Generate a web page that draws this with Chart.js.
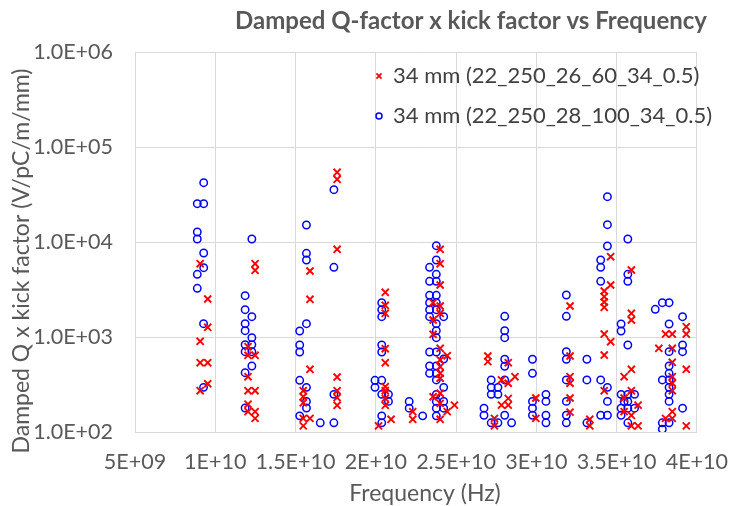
<!DOCTYPE html>
<html><head><meta charset="utf-8">
<script src="https://cdn.jsdelivr.net/npm/chart.js@4.4.0/dist/chart.umd.min.js"></script>
<style>html,body{margin:0;padding:0;background:#fff;} #wrap{width:745px;height:506px;position:relative;}</style>
</head><body><div id="wrap"><canvas id="c" width="745" height="506"></canvas></div>
<script>
const chartTitle = 'Damped Q-factor x kick factor vs Frequency';
const xAxisTitle = 'Frequency (Hz)';
const yAxisTitle = 'Damped Q x kick factor (V/pC/m/mm)';
const seriesNames = ['34 mm (22_250_26_60_34_0.5)', '34 mm (22_250_28_100_34_0.5)'];
const xTickValues = [5e9, 1e10, 1.5e10, 2e10, 2.5e10, 3e10, 3.5e10, 4e10];
const xTickLabels = ['5E+09', '1E+10', '1.5E+10', '2E+10', '2.5E+10', '3E+10', '3.5E+10', '4E+10'];
const yTickValues = [1e2, 1e3, 1e4, 1e5, 1e6];
const yTickLabels = ['1.0E+02', '1.0E+03', '1.0E+04', '1.0E+05', '1.0E+06'];

// Series 1: red crosses (frequency in Hz, damped Q x kick factor)
const seriesAFreq = [
  9.06e9, 9.53e9, 9.53e9, 9.06e9, 9.06e9, 9.53e9, 9.53e9, 9.06e9,
  12.48e9, 12.48e9, 12.04e9, 12.04e9, 12.48e9, 12.04e9, 12.04e9, 12.48e9, 12.04e9, 12.04e9, 12.48e9, 12.48e9,
  15.90e9, 15.90e9, 15.90e9, 15.48e9, 15.48e9, 15.48e9, 15.48e9, 15.90e9, 15.48e9,
  17.59e9, 17.59e9, 17.59e9, 17.59e9, 17.59e9, 17.59e9, 17.59e9,
  20.59e9, 20.59e9, 20.59e9, 20.59e9, 20.59e9, 20.59e9, 20.59e9, 20.59e9, 20.59e9, 20.17e9, 20.95e9,
  22.30e9, 22.30e9,
  24.01e9, 24.01e9, 24.01e9, 23.57e9, 24.01e9, 23.57e9, 24.01e9, 23.57e9, 24.01e9, 24.45e9, 24.01e9, 24.01e9,
  24.01e9, 24.01e9, 23.57e9, 24.01e9, 24.01e9, 24.45e9, 24.90e9, 24.01e9,
  26.98e9, 26.98e9, 27.39e9, 27.39e9,
  28.25e9, 27.83e9, 28.25e9, 28.67e9, 28.25e9, 28.25e9, 27.83e9,
  29.97e9, 29.97e9,
  32.10e9, 32.10e9, 32.10e9, 32.10e9, 32.10e9, 32.10e9,
  33.33e9, 33.33e9,
  34.63e9, 34.63e9, 34.23e9, 34.23e9, 34.23e9, 34.23e9, 34.23e9, 34.63e9, 34.23e9, 34.23e9,
  35.92e9, 35.92e9, 35.92e9, 35.92e9, 35.47e9, 35.92e9, 35.47e9, 36.34e9, 35.92e9, 35.47e9, 35.92e9, 36.34e9,
  38.05e9, 38.47e9, 37.63e9, 38.47e9, 38.47e9, 38.47e9, 38.47e9, 38.47e9, 38.47e9, 38.05e9, 38.47e9,
  39.34e9, 39.34e9, 39.34e9, 39.34e9
];
const seriesAValue = [
  5910, 2512, 1265, 901, 536, 536, 322, 272,
  5910, 5037, 790, 642, 642, 382, 272, 272, 196, 164, 164, 139,
  4951, 2494, 457, 272, 235, 203, 139, 139, 116,
  54160, 45700, 8380, 379, 272, 230, 191,
  2954, 2157, 1776, 753, 536, 300, 272, 226, 191, 116, 136,
  164, 136,
  8380, 5910, 3527, 2297, 2120, 1510, 1776, 1067, 760, 636, 573, 487,
  415, 368, 235, 256, 200, 164, 192, 136,
  631, 550, 139, 116,
  536, 353, 326, 382, 226, 192, 192,
  228, 139,
  2120, 631, 382, 326, 228, 162,
  136, 116,
  7004, 3527, 3050, 2656, 2336, 2054, 1075, 892, 646, 272,
  5074, 1776, 1510, 457, 382, 272, 228, 192, 150, 164, 116, 116,
  1075, 1075, 761, 761, 542, 382, 326, 272, 164, 139, 139,
  1284, 1075, 457, 116
];

// Series 2: blue circles
const seriesBFreq = [
  9.28e9, 8.88e9, 9.28e9, 8.88e9, 8.88e9, 9.28e9, 9.28e9, 8.88e9, 8.88e9, 9.27e9, 9.27e9,
  12.28e9, 11.86e9, 11.86e9, 12.28e9, 11.86e9, 11.86e9, 12.28e9, 11.86e9, 12.28e9, 11.86e9, 12.28e9, 12.28e9, 11.86e9, 11.86e9,
  15.68e9, 15.68e9, 15.68e9, 15.68e9, 15.26e9, 15.26e9, 15.26e9, 15.26e9, 15.68e9, 15.68e9, 15.68e9, 15.26e9, 16.54e9,
  17.39e9, 17.39e9, 17.39e9, 17.39e9,
  20.37e9, 20.37e9, 20.37e9, 20.37e9, 20.37e9, 19.95e9, 20.37e9, 19.95e9, 20.37e9, 20.79e9, 20.79e9, 20.37e9, 20.37e9,
  22.08e9, 22.08e9, 22.92e9,
  23.77e9, 23.77e9, 23.35e9, 23.77e9, 23.35e9, 23.77e9, 23.35e9, 23.77e9, 23.35e9, 23.77e9, 23.35e9, 23.77e9,
  23.35e9, 24.23e9, 23.77e9, 23.77e9, 23.77e9, 23.35e9, 23.77e9, 24.23e9, 23.35e9, 23.77e9, 23.35e9, 23.77e9,
  23.77e9, 24.23e9, 23.77e9, 23.77e9, 24.23e9, 23.77e9, 24.23e9, 23.77e9,
  27.19e9, 27.19e9, 27.19e9, 27.61e9, 27.61e9, 26.74e9, 26.74e9, 27.19e9, 27.61e9,
  28.03e9, 28.03e9, 28.03e9, 28.03e9, 28.03e9, 28.03e9, 28.03e9, 28.46e9,
  29.76e9, 29.76e9, 29.76e9, 29.76e9, 29.76e9,
  30.60e9, 30.60e9, 30.60e9, 30.60e9,
  31.87e9, 31.87e9, 31.87e9, 31.87e9, 31.87e9, 31.87e9, 31.87e9, 31.87e9,
  33.15e9, 33.15e9, 33.15e9,
  34.43e9, 34.43e9, 34.43e9, 34.01e9, 34.01e9, 34.01e9, 34.01e9, 34.43e9, 34.43e9, 34.01e9, 34.43e9,
  35.70e9, 35.70e9, 35.70e9, 35.28e9, 35.28e9, 35.70e9, 35.28e9, 35.70e9, 36.12e9, 35.47e9, 35.70e9,
  35.28e9, 35.70e9, 36.12e9, 35.28e9, 35.70e9,
  37.41e9, 37.85e9, 38.27e9, 38.27e9, 38.27e9, 38.27e9, 38.27e9, 37.85e9, 38.27e9, 38.27e9, 38.27e9,
  38.27e9, 38.27e9, 37.85e9, 37.85e9,
  39.11e9, 39.11e9, 39.11e9, 39.11e9
];
const seriesBValue = [
  42100, 25305, 25305, 12743, 10755, 7661, 5364, 4571, 3255, 1380, 295,
  10755, 2721, 1939, 1636, 1380, 1165, 983, 830, 830, 700, 700, 495, 421, 179,
  15100, 7607, 6465, 1380, 1157, 824, 695, 350, 295, 210, 179, 148, 125,
  35530, 5416, 249, 125,
  2297, 1939, 1636, 824, 695, 350, 350, 295, 249, 249, 210, 148, 125,
  210, 178, 148,
  9142, 6465, 5416, 4571, 3857, 3857, 2747, 2747, 2297, 2297, 1939, 1939,
  1636, 1636, 1380, 1165, 983, 695, 695, 587, 495, 495, 415, 415,
  353, 295, 249, 210, 210, 178, 178, 148,
  353, 295, 249, 295, 249, 178, 150, 125, 125,
  1652, 1165, 983, 583, 492, 353, 150, 125,
  583, 415, 210, 178, 150,
  249, 210, 150, 125,
  2768, 1652, 700, 583, 353, 210, 150, 125,
  583, 353, 125,
  29990, 15210, 9075, 6465, 5416, 3857, 353, 295, 210, 150, 150,
  10755, 4571, 3857, 1370, 1157, 824, 249, 249, 249, 210, 210,
  178, 178, 178, 150, 125,
  1957, 2297, 2297, 1370, 701, 495, 415, 353, 353, 295, 249,
  210, 125, 125, 107,
  1636, 824, 700, 178
];

const toPoints = (fs, vs) => fs.map((f, i) => ({ x: f, y: vs[i] }));

const FONT = 'Lato, "Open Sans", sans-serif';
const GRAY = '#595959';
const RED = '#FF0000';
const BLUE = '#0000FF';

const decor = {
  id: 'decor',
  afterDraw(chart) {
    const ctx = chart.ctx;
    ctx.save();
    // Title
    ctx.fillStyle = GRAY;
    ctx.font = 'bold 24px ' + FONT;
    ctx.textAlign = 'center';
    ctx.textBaseline = 'middle';
    ctx.fillText(chartTitle, 471, 21);
    // X axis title
    ctx.font = '23px ' + FONT;
    ctx.fillText(xAxisTitle, 425, 494);
    // Y axis title
    ctx.save();
    ctx.translate(22, 261);
    ctx.rotate(-Math.PI / 2);
    ctx.fillText(yAxisTitle, 0, 0);
    ctx.restore();
    // Legend
    const items = [
      { y: 76, style: 'crossRot', color: RED, r: 3.6, bw: 1.7 },
      { y: 116, style: 'circle', color: BLUE, r: 3, bw: 1.5 }
    ];
    items.forEach((it, i) => {
      ctx.strokeStyle = it.color;
      ctx.fillStyle = 'rgba(0,0,0,0)';
      ctx.lineWidth = it.bw;
      Chart.helpers.drawPoint(ctx, { pointStyle: it.style, radius: it.r, borderWidth: it.bw }, 379, it.y);
      ctx.fillStyle = '#404040';
      ctx.font = '22px ' + FONT;
      ctx.textAlign = 'left';
      ctx.textBaseline = 'middle';
      ctx.fillText(seriesNames[i], 393, it.y);
    });
    ctx.restore();
  }
};

new Chart(document.getElementById('c'), {
  type: 'scatter',
  data: {
    datasets: [
      {
        label: seriesNames[0],
        data: toPoints(seriesAFreq, seriesAValue),
        pointStyle: 'crossRot',
        pointRadius: 5,
        pointBorderWidth: 1.9,
        borderColor: RED,
        backgroundColor: RED,
        pointHoverRadius: 5
      },
      {
        label: seriesNames[1],
        data: toPoints(seriesBFreq, seriesBValue),
        pointStyle: 'circle',
        pointRadius: 3.7,
        pointBorderWidth: 1.5,
        borderColor: BLUE,
        backgroundColor: 'rgba(0,0,0,0)',
        pointHoverRadius: 3.7
      }
    ]
  },
  options: {
    responsive: false,
    animation: false,
    devicePixelRatio: 1,
    layout: { padding: { top: 52, right: 30, bottom: 0, left: 0 } },
    plugins: {
      legend: { display: false },
      title: { display: false },
      tooltip: { enabled: false }
    },
    scales: {
      x: {
        type: 'linear',
        min: xTickValues[0],
        max: xTickValues[xTickValues.length - 1],
        afterBuildTicks(scale) { scale.ticks = xTickValues.map(v => ({ value: v })); },
        afterFit(scale) { scale.height = 74; },
        ticks: {
          callback(v, i) { return xTickLabels[i]; },
          color: GRAY,
          font: { family: FONT, size: 21.5 },
          padding: 17,
          maxRotation: 0,
          autoSkip: false
        },
        grid: { color: '#d9d9d9', lineWidth: 1, drawTicks: false },
        border: { color: '#d9d9d9' }
      },
      y: {
        type: 'logarithmic',
        min: yTickValues[0],
        max: yTickValues[yTickValues.length - 1],
        afterBuildTicks(scale) { scale.ticks = yTickValues.map(v => ({ value: v })); },
        afterFit(scale) { scale.width = 135; },
        ticks: {
          callback(v, i) { return yTickLabels[i]; },
          color: GRAY,
          font: { family: FONT, size: 21.5 },
          padding: 22,
          autoSkip: false
        },
        grid: { color: '#d9d9d9', lineWidth: 1, drawTicks: false },
        border: { color: '#d9d9d9' }
      }
    }
  },
  plugins: [decor]
});
</script>
</body></html>
